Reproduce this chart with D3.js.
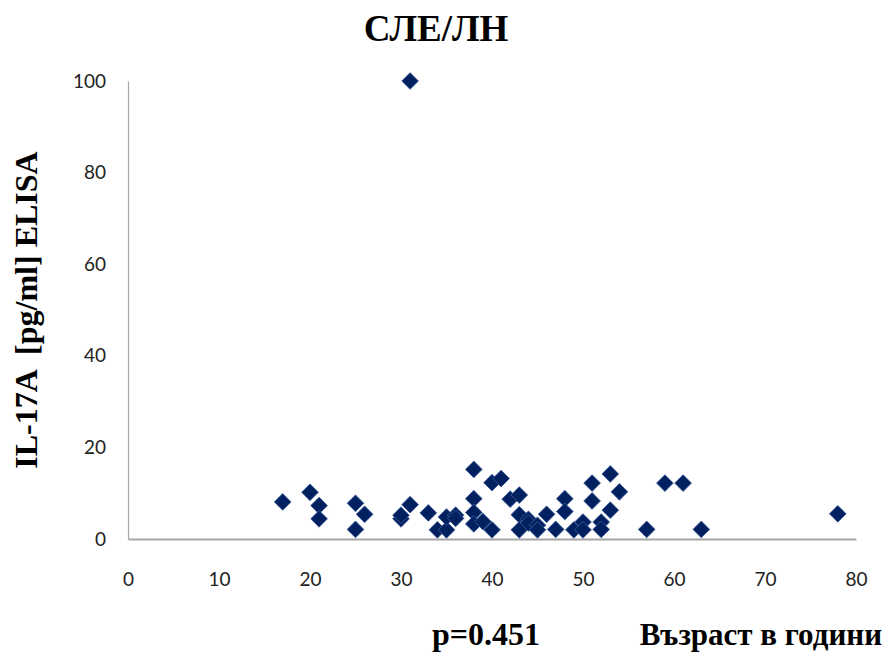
<!DOCTYPE html>
<html>
<head>
<meta charset="utf-8">
<script src="https://cdn.jsdelivr.net/npm/d3@7"></script>
<style>
  html, body { margin: 0; padding: 0; background: #fff; }
  svg { display: block; }
  text { white-space: pre; }
</style>
</head>
<body>
<svg id="chart" width="885" height="654"></svg>
<script>
// Age (years) of each patient
const ages = [
  17, 20, 21, 21, 25, 25, 26, 30, 30, 31, 31, 33, 34, 35, 35, 36, 36,
  38, 38, 38, 38, 39, 40, 40, 41, 42, 43, 43, 43, 44, 44, 45, 45, 46,
  47, 48, 48, 49, 50, 50, 51, 51, 52, 52, 53, 53, 54, 57, 59, 61, 63, 78
];
// IL-17A serum level (pg/ml, ELISA), same order as ages
const il17a = [
  8.1, 10.2, 7.3, 4.4, 7.8, 2.1, 5.4, 4.4, 5.2, 7.5, 100, 5.7, 2.0, 2.0, 4.8, 5.2, 4.5,
  15.2, 8.8, 5.8, 3.3, 3.8, 12.3, 2.0, 13.2, 8.7, 9.6, 5.3, 2.0, 4.3, 3.5, 3.0, 2.0, 5.4,
  2.1, 8.8, 6.0, 2.0, 3.7, 2.0, 12.2, 8.3, 3.7, 2.1, 14.2, 6.3, 10.3, 2.1, 12.2, 12.2, 2.1, 5.5
];
const xTicks = [0, 10, 20, 30, 40, 50, 60, 70, 80];
const yTicks = [0, 20, 40, 60, 80, 100];

const points = ages.map((a, i) => ({ age: a, value: il17a[i] }));

const svg = d3.select("#chart");

const x = d3.scaleLinear().domain([0, 80]).range([128, 856]);
const y = d3.scaleLinear().domain([0, 100]).range([539, 81]);

const tickFont = "Lato, 'Open Sans', sans-serif";
const labelFont = "'Liberation Serif', 'DejaVu Serif', serif";

// Y axis: plain line with labels, no tick marks
const yAxis = svg.append("g")
  .attr("transform", `translate(${x(0)},0)`)
  .call(d3.axisLeft(y).tickValues(yTicks).tickSize(0).tickPadding(22));
yAxis.select(".domain").attr("stroke", "#a6a6a6").attr("stroke-width", 1.2);
yAxis.selectAll("text")
  .attr("font-family", tickFont)
  .attr("font-size", 19)
  .attr("fill", "#222");

// X axis: line along zero, labels set lower
const xAxis = svg.append("g")
  .attr("transform", `translate(0,${y(0)})`)
  .call(d3.axisBottom(x).tickValues(xTicks).tickSize(0).tickPadding(34));
xAxis.select(".domain").attr("stroke", "#a6a6a6").attr("stroke-width", 2);
xAxis.selectAll("text")
  .attr("font-family", tickFont)
  .attr("font-size", 19)
  .attr("fill", "#222");

// Diamond markers
const diamond = d3.symbol().type(d3.symbolSquare).size(140);
svg.append("g")
  .selectAll("path")
  .data(points)
  .join("path")
  .attr("d", diamond)
  .attr("transform", d => `translate(${x(d.age)},${y(d.value)}) rotate(45)`)
  .attr("fill", "#002060")
  .attr("stroke", "#3b5a96")
  .attr("stroke-width", 0.8);

// Title
svg.append("text")
  .attr("x", 436)
  .attr("y", 41)
  .attr("text-anchor", "middle")
  .attr("font-family", labelFont)
  .attr("font-weight", "bold")
  .attr("font-size", 37)
  .text("СЛЕ/ЛН");

// Y axis title
svg.append("text")
  .attr("transform", "translate(37,310) rotate(-90)")
  .attr("text-anchor", "middle")
  .attr("font-family", labelFont)
  .attr("font-weight", "bold")
  .attr("font-size", 32)
  .text("IL-17A  [pg/ml] ELISA");

// Bottom captions
svg.append("text")
  .attr("x", 432)
  .attr("y", 645)
  .attr("font-family", labelFont)
  .attr("font-weight", "bold")
  .attr("font-size", 32)
  .text("p=0.451");

svg.append("text")
  .attr("x", 882)
  .attr("y", 645)
  .attr("text-anchor", "end")
  .attr("font-family", labelFont)
  .attr("font-weight", "bold")
  .attr("font-size", 31)
  .text("Възраст в години");
</script>
</body>
</html>
